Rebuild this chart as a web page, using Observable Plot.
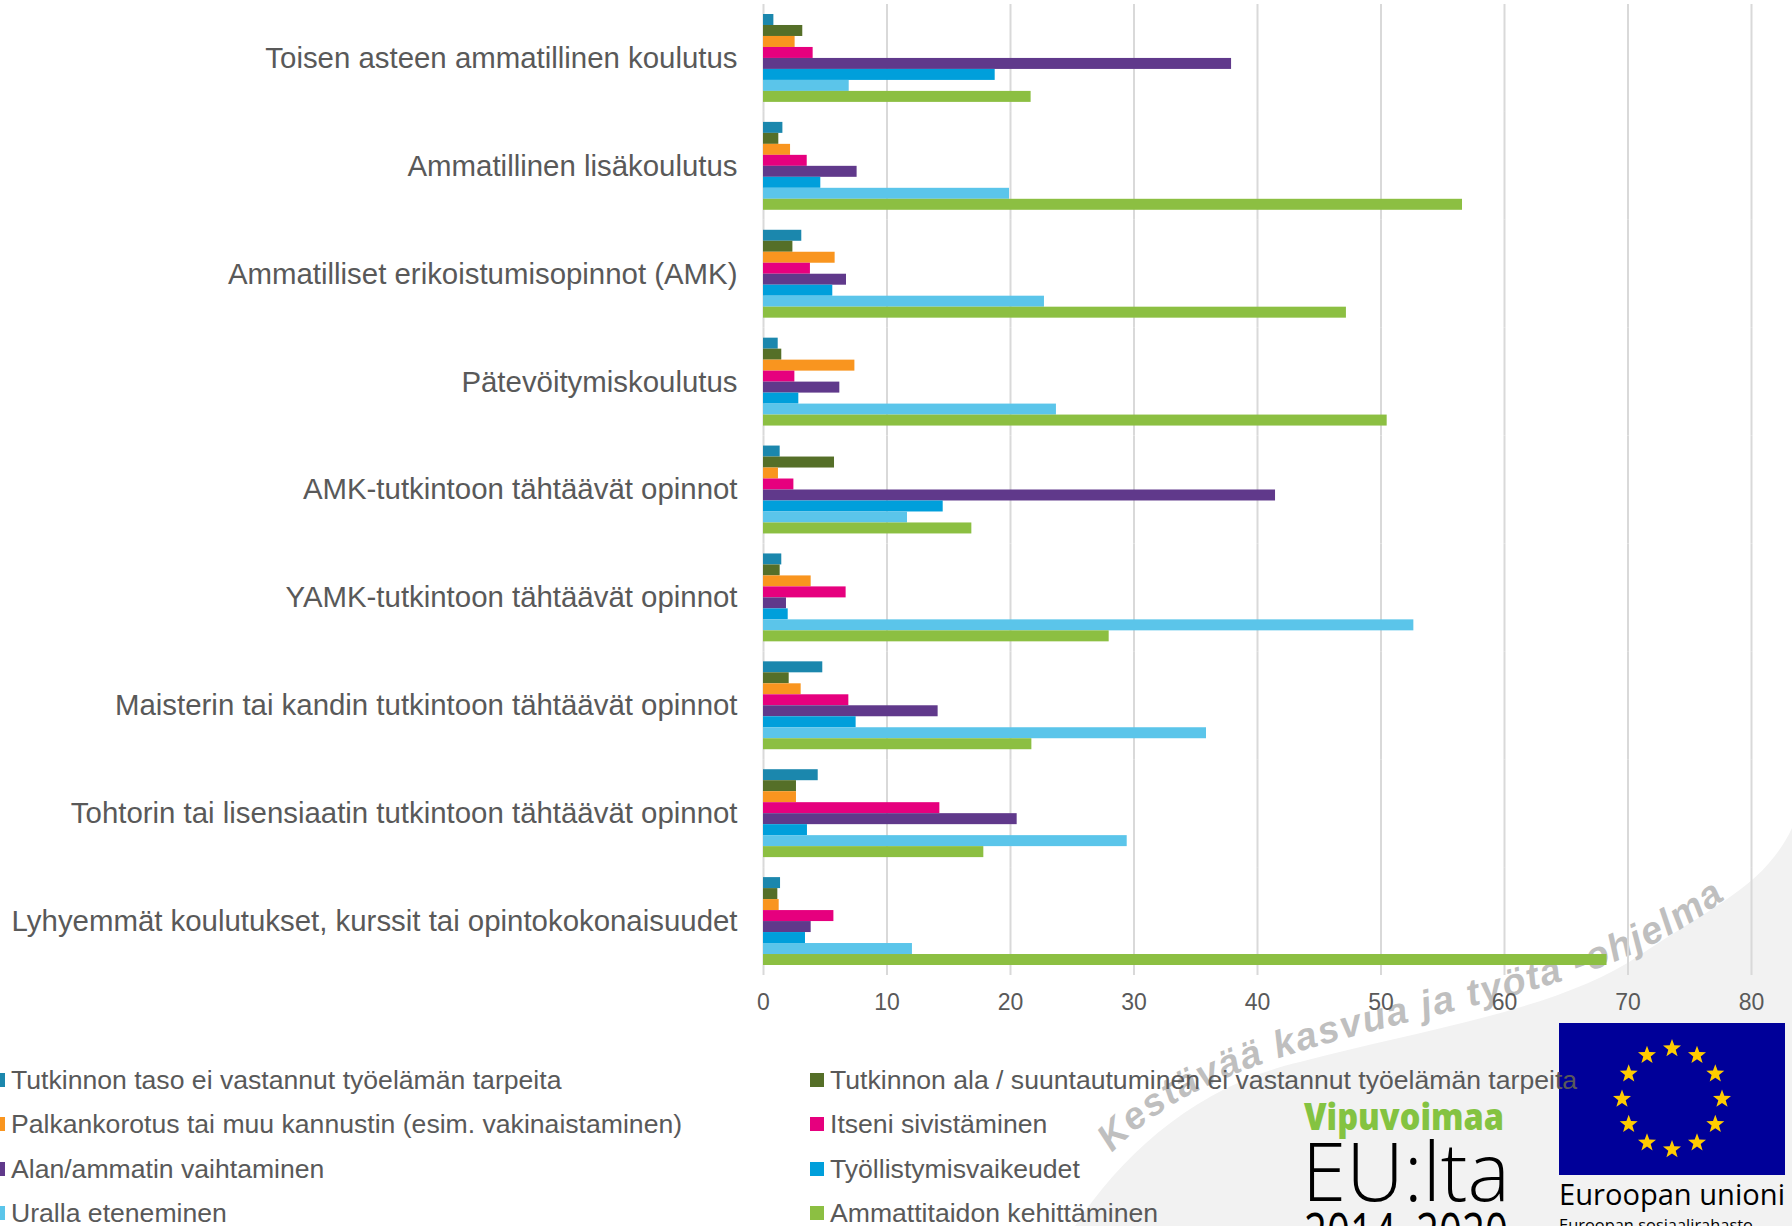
<!DOCTYPE html>
<html lang="fi">
<head>
<meta charset="utf-8">
<script src="https://cdn.jsdelivr.net/npm/d3@7"></script>
<script src="https://cdn.jsdelivr.net/npm/@observablehq/plot@0.6"></script>
<style>
html,body{margin:0;padding:0;background:#fff;overflow:hidden}
#page{position:relative;width:1792px;height:1226px;overflow:hidden;font-family:"Liberation Sans",Arial,sans-serif}
#page>*{position:absolute;left:0;top:0}
.lg{position:absolute;white-space:nowrap;font-size:26.6px;line-height:30px;color:#595959}
.sw{position:absolute;width:14px;height:14px}
</style>
</head>
<body>
<div id="page"></div>
<script>
const categories = [
  "Toisen asteen ammatillinen koulutus",
  "Ammatillinen lisäkoulutus",
  "Ammatilliset erikoistumisopinnot (AMK)",
  "Pätevöitymiskoulutus",
  "AMK-tutkintoon tähtäävät opinnot",
  "YAMK-tutkintoon tähtäävät opinnot",
  "Maisterin tai kandin tutkintoon tähtäävät opinnot",
  "Tohtorin tai lisensiaatin tutkintoon tähtäävät opinnot",
  "Lyhyemmät koulutukset, kurssit tai opintokokonaisuudet"
];
const seriesNames = [
  "Tutkinnon taso ei vastannut työelämän tarpeita",
  "Tutkinnon ala / suuntautuminen ei vastannut työelämän tarpeita",
  "Palkankorotus tai muu kannustin (esim. vakinaistaminen)",
  "Itseni sivistäminen",
  "Alan/ammatin vaihtaminen",
  "Työllistymisvaikeudet",
  "Uralla eteneminen",
  "Ammattitaidon kehittäminen"
];
const seriesColors = ["#1b87ad","#556f28","#f9951f","#e6007e","#60398b","#009fdb","#5bc5ea","#8cbf42"];
const tutkinnonTaso = [0.84,1.57,3.1,1.19,1.35,1.48,4.8,4.43,1.38];
const tutkinnonAla = [3.18,1.24,2.38,1.48,5.75,1.35,2.08,2.67,1.16];
const palkankorotus = [2.56,2.19,5.8,7.4,1.21,3.86,3.05,2.67,1.27];
const sivistaminen = [4.02,3.54,3.8,2.54,2.46,6.69,6.91,14.28,5.7];
const vaihtaminen = [37.9,7.58,6.72,6.18,41.46,1.86,14.14,20.54,3.86];
const tyollistyminen = [18.76,4.64,5.61,2.86,14.55,2.0,7.5,3.56,3.4];
const uraEteneminen = [6.94,19.92,22.75,23.72,11.66,52.66,35.87,29.45,12.06];
const ammattitaito = [21.67,56.6,47.2,50.5,16.87,27.99,21.73,17.84,68.3];
const xTicks = [0,10,20,30,40,50,60,70,80];

const seriesValues = [tutkinnonTaso,tutkinnonAla,palkankorotus,sivistaminen,vaihtaminen,tyollistyminen,uraEteneminen,ammattitaito];
const rows = seriesNames.flatMap((s,i)=>categories.map((c,j)=>({category:c,series:s,value:seriesValues[i][j]})));

const page = document.getElementById("page");
const NS = "http://www.w3.org/2000/svg";

// swoosh and watermark, behind the chart
const back = document.createElementNS(NS,"svg");
back.setAttribute("width",1792); back.setAttribute("height",1226);
back.innerHTML = `
<path d="M1075,1226 C1125,1150 1200,1085 1300,1062 C1420,1030 1560,1010 1640,955 C1715,905 1765,885 1792,828 L1792,1226 Z" fill="#f2f2f2"/>
<path id="wm" d="M1112,1153 C1180,1080 1290,1052 1420,1019 C1540,990 1640,965 1726,898" fill="none"/>
<text font-family="'Liberation Sans',Arial,sans-serif" font-size="38" font-weight="700" font-style="italic" fill="#bfbfbf" letter-spacing="1.7"><textPath href="#wm">Kestävää kasvua ja työtä -ohjelma</textPath></text>
<rect x="1559" y="1023" width="226" height="152" fill="#000099"/>
`;
const stars = document.createElementNS(NS,"g");
for(let k=0;k<12;k++){
  const a=k*Math.PI/6, cx=1672+50*Math.sin(a), cy=1099-50.5*Math.cos(a);
  const pts=[];
  for(let m=0;m<10;m++){const r=m%2?3.9:9.5,t=m*Math.PI/5;pts.push((cx+r*Math.sin(t)).toFixed(1)+","+(cy-r*Math.cos(t)).toFixed(1));}
  const p=document.createElementNS(NS,"polygon");p.setAttribute("points",pts.join(" "));p.setAttribute("fill","#ffcc00");stars.appendChild(p);
}
back.appendChild(stars);
page.appendChild(back);

const chart = Plot.plot({
  width:1792, height:1020,
  marginLeft:763, marginRight:41, marginTop:4, marginBottom:45,
  style:{background:"transparent",fontFamily:"'Liberation Sans',Arial,sans-serif",overflow:"visible"},
  x:{domain:[0,80],axis:null},
  y:{domain:seriesNames,paddingInner:0,paddingOuter:0.91,round:false,axis:null},
  fy:{domain:categories,padding:0,round:false,axis:null},
  color:{domain:seriesNames,range:seriesColors},
  marks:[
    Plot.gridX(xTicks,{stroke:"#d9d9d9",strokeOpacity:1,strokeWidth:2}),
    Plot.axisX(xTicks,{anchor:"bottom",tickSize:0,tickPadding:18,label:null,fontSize:23,fill:"#595959"}),
    Plot.axisFy({anchor:"left",tickSize:0,tickPadding:26,label:null,fontSize:29.4,fill:"#595959",lineWidth:Infinity,textOverflow:null}),
    Plot.barX(rows,{x:"value",y:"series",fy:"category",fill:"series"})
  ]
});
page.appendChild(chart);

// legend, two columns
const colX = [{sw:-9,tx:11},{sw:810,tx:830}];
const rowY = [1080,1123.5,1168.5,1213];
seriesNames.forEach((s,i)=>{
  const col=colX[i%2], y=rowY[Math.floor(i/2)];
  const sw=document.createElement("div");sw.className="sw";
  sw.style.cssText=`left:${col.sw}px;top:${y-7}px;background:${seriesColors[i]}`;
  const t=document.createElement("div");t.className="lg";t.textContent=s;
  t.style.cssText=`left:${col.tx}px;top:${y-15}px`;
  page.appendChild(sw);page.appendChild(t);
});

// logos
const front = document.createElementNS(NS,"svg");
front.setAttribute("width",1792); front.setAttribute("height",1226);
front.innerHTML = `
<text x="1304" y="1130" font-family="'Open Sans',sans-serif" font-weight="800" font-size="37" fill="#84c341" textLength="200" lengthAdjust="spacingAndGlyphs">Vipuvoimaa</text>
<text x="1302" y="1201" font-family="'Open Sans',sans-serif" font-weight="300" font-size="81" fill="#000" textLength="208" lengthAdjust="spacingAndGlyphs">EU:lta</text>
<text x="1304" y="1252" font-family="'Open Sans',sans-serif" font-weight="400" font-size="54" fill="#000" textLength="204" lengthAdjust="spacingAndGlyphs">2014–2020</text>
<text x="1559" y="1205" font-family="'Open Sans',sans-serif" font-size="30" fill="#000" textLength="226" lengthAdjust="spacingAndGlyphs">Euroopan unioni</text>
<text x="1559" y="1231" font-family="'Open Sans',sans-serif" font-size="17" fill="#000" textLength="194" lengthAdjust="spacingAndGlyphs">Euroopan sosiaalirahasto</text>
`;
page.appendChild(front);
</script>
</body>
</html>
